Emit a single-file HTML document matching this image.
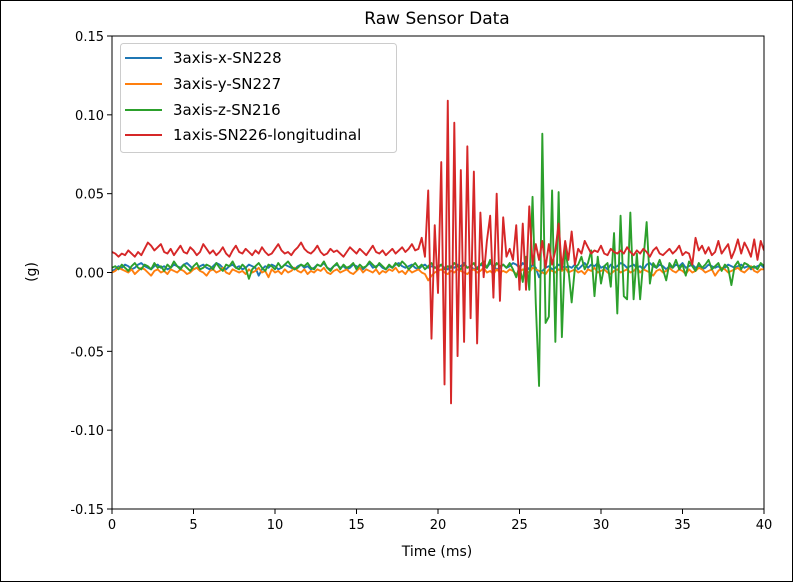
<!DOCTYPE html>
<html><head><meta charset="utf-8"><style>
body{margin:0;background:#fff;}
svg{display:block;font-family:"DejaVu Sans","Liberation Sans",sans-serif;}
</style></head><body>
<svg id="chart" width="793" height="582" viewBox="0 0 793 582">
<rect x="0.5" y="0.5" width="792" height="581" fill="#fff" stroke="#000"/>
<text x="437" y="24" font-size="17" text-anchor="middle">Raw Sensor Data</text>
<g id="plot"></g>
<text x="437" y="556" font-size="14" text-anchor="middle">Time (ms)</text>
<text transform="translate(36,272) rotate(-90)" font-size="14" text-anchor="middle">(g)</text>
<g>
<rect x="120.5" y="43.5" width="276" height="109" rx="3" fill="#fff" fill-opacity="0.8" stroke="#ccc"/>
<g><line x1="125" y1="58" x2="162" y2="58" stroke="#1f77b4" stroke-width="2"/><text x="173" y="63" font-size="15">3axis-x-SN228</text></g>
<g><line x1="125" y1="84" x2="162" y2="84" stroke="#ff7f0e" stroke-width="2"/><text x="173" y="89" font-size="15">3axis-y-SN227</text></g>
<g><line x1="125" y1="110" x2="162" y2="110" stroke="#2ca02c" stroke-width="2"/><text x="173" y="115" font-size="15">3axis-z-SN216</text></g>
<g><line x1="125" y1="135" x2="162" y2="135" stroke="#d62728" stroke-width="2"/><text x="173" y="140" font-size="15">1axis-SN226-longitudinal</text></g>
</g>
</svg>
<script>
const timeStep = 0.2; // ms
const xTicks = [0,5,10,15,20,25,30,35,40];
const yTicks = [-0.15,-0.10,-0.05,0.00,0.05,0.10,0.15];
const yTickLabels = ["-0.15","-0.10","-0.05","0.00","0.05","0.10","0.15"];
const seriesNames = ["3axis-x-SN228","3axis-y-SN227","3axis-z-SN216","1axis-SN226-longitudinal"];
// values in milli-g
const blueX = [1,2,4,3,5,4,2,3,5,6,4,3,2,4,5,3,4,2,3,5,
4,3,5,6,4,2,3,4,5,3,2,4,6,5,3,2,4,5,3,4,
2,3,5,4,3,-2,2,4,3,5,4,2,3,5,4,3,2,4,5,3,
4,2,3,5,4,6,3,2,4,5,3,4,2,3,5,4,3,2,4,6,
3,4,5,3,2,4,3,5,6,4,3,4,5,3,2,4,5,3,4,3,
4,5,3,2,4,3,5,4,6,3,4,2,3,5,4,3,6,4,2,3,
5,3,4,6,5,3,6,4,2,5,3,-3,1,3,4,2,3,5,4,3,
4,3,5,2,4,6,3,5,4,6,3,4,2,5,3,4,6,5,3,4,
5,3,4,2,5,6,4,3,5,4,2,4,3,5,4,6,3,4,5,3,
4,2,3,5,4,3,4,2,3,5,4,3,4,5,3,4,2,3,4,5,3];
const orangeY = [0,1,3,2,1,0,2,-1,1,3,2,0,-2,1,2,0,1,-1,2,1,
0,2,1,-1,0,2,3,1,0,-2,1,2,0,1,3,0,-1,2,1,0,
1,-1,2,0,1,3,0,1,-3,2,0,1,-1,2,0,1,3,1,0,2,
-1,1,0,2,1,3,0,-1,1,2,0,1,2,0,-1,1,3,0,2,1,
0,2,-1,1,0,2,1,3,0,1,-1,2,0,1,2,0,-1,-5,-2,0,
1,2,0,-1,1,0,2,1,0,-1,1,2,0,1,3,0,1,-1,2,0,
1,0,2,1,-1,0,2,1,0,3,2,1,0,-1,2,1,0,2,1,3,
0,1,2,0,1,-1,2,1,3,0,1,2,0,-1,1,2,0,1,2,0,
1,3,0,2,1,0,-2,1,2,0,1,3,1,0,2,1,-1,2,0,1,
3,2,0,1,2,-2,1,3,2,0,1,2,3,1,0,2,4,1,0,2,2];
const greenZ = [3,4,2,5,3,1,4,6,3,2,5,4,2,6,3,4,1,5,3,7,
4,2,5,3,1,4,6,2,3,5,4,2,6,3,1,5,4,7,3,2,
5,3,-4,2,4,6,3,1,5,4,2,6,3,5,7,4,2,3,5,4,
6,3,2,5,4,7,3,1,4,6,2,5,3,4,6,2,5,3,4,7,
5,3,6,4,2,5,3,6,4,7,5,2,4,6,3,5,2,4,6,3,
3,5,2,4,3,6,4,2,5,3,4,6,2,5,7,3,8,2,6,4,
5,3,6,2,-3,4,-6,10,-11,48,-20,-72,88,-32,-28,52,-44,51,-41,15,
2,-19,3,5,10,2,6,14,-15,10,-7,4,6,-9,25,-26,36,-15,-17,38,
-17,12,-17,8,32,-7,6,3,8,2,-5,
6,3,8,2,5,-2,7,4,1,6,3,5,8,2,4,6,1,5,3,-8,4,7,2,6,5,3,4,2,6,4];
const redLong = [13,12,10,12,11,14,12,10,13,11,15,19,17,14,16,18,13,12,15,11,
14,17,13,12,16,14,11,13,18,15,12,14,11,13,16,12,10,14,17,13,
12,15,13,11,14,12,16,13,11,12,15,18,14,12,13,11,14,16,19,15,
13,12,14,17,13,11,12,15,13,14,12,10,13,16,14,12,15,13,11,14,
17,13,12,14,11,13,15,12,14,16,13,15,18,14,15,22,
10,52,-42,30,-13,70,-71,109,-83,95,-53,65,-44,80,-29,64,-45,38,-3,20,
36,-16,50,-18,35,10,15,8,30,-11,31,-11,42,5,18,8,20,3,18,5,
14,31,2,20,8,26,5,15,12,20,
16,12,14,13,17,12,11,15,13,12,14,12,16,13,11,14,12,15,13,10,
14,16,12,11,13,15,12,14,17,11,13,12,5,22,14,17,12,16,11,13,
20,12,15,18,9,14,21,12,19,15,10,21,8,20,14];

const NS="http://www.w3.org/2000/svg";
const L=112,R=764,T=36,B=509;
const xs=t=>L+(t-0)/(40-0)*(R-L);
const ys=v=>B-(v+0.15)/0.3*(B-T);
const plot=document.getElementById('plot');
function mk(tag,attrs,parent){const e=document.createElementNS(NS,tag);for(const k in attrs)e.setAttribute(k,attrs[k]);(parent||plot).appendChild(e);return e;}

const clip=mk('clipPath',{id:'pc'});mk('rect',{x:L,y:T,width:R-L,height:B-T},clip);

const seriesList=[[blueX,"#1f77b4","series-3axis-x"],[orangeY,"#ff7f0e","series-3axis-y"],[greenZ,"#2ca02c","series-3axis-z"],[redLong,"#d62728","series-1axis-longitudinal"]];
seriesList.forEach(([arr,col,name])=>{
  const pts=arr.map((v,i)=>xs(i*timeStep).toFixed(2)+","+ys(v/1000).toFixed(2)).join(" ");
  const p=mk('polyline',{points:pts,fill:"none",stroke:col,"stroke-width":"1.9","stroke-linejoin":"round","clip-path":"url(#pc)"});
  
  
});

const frame=mk('rect',{x:L,y:T,width:R-L,height:B-T,fill:"none",stroke:"#000","stroke-width":"1"});



xTicks.forEach(t=>{
  const x=xs(t);
  mk('line',{x1:x,y1:B,x2:x,y2:B+5,stroke:"#000"});
  const tx=mk('text',{x:x,y:B+20,"font-size":"13","text-anchor":"middle"});
  tx.textContent=String(t);
  
  
});
yTicks.forEach((v,i)=>{
  const y=ys(v);
  mk('line',{x1:L-5,y1:y,x2:L,y2:y,stroke:"#000"});
  const tx=mk('text',{x:L-8,y:y+5,"font-size":"13","text-anchor":"end"});
  tx.textContent=yTickLabels[i];
  
  
});
</script>
</body></html>
